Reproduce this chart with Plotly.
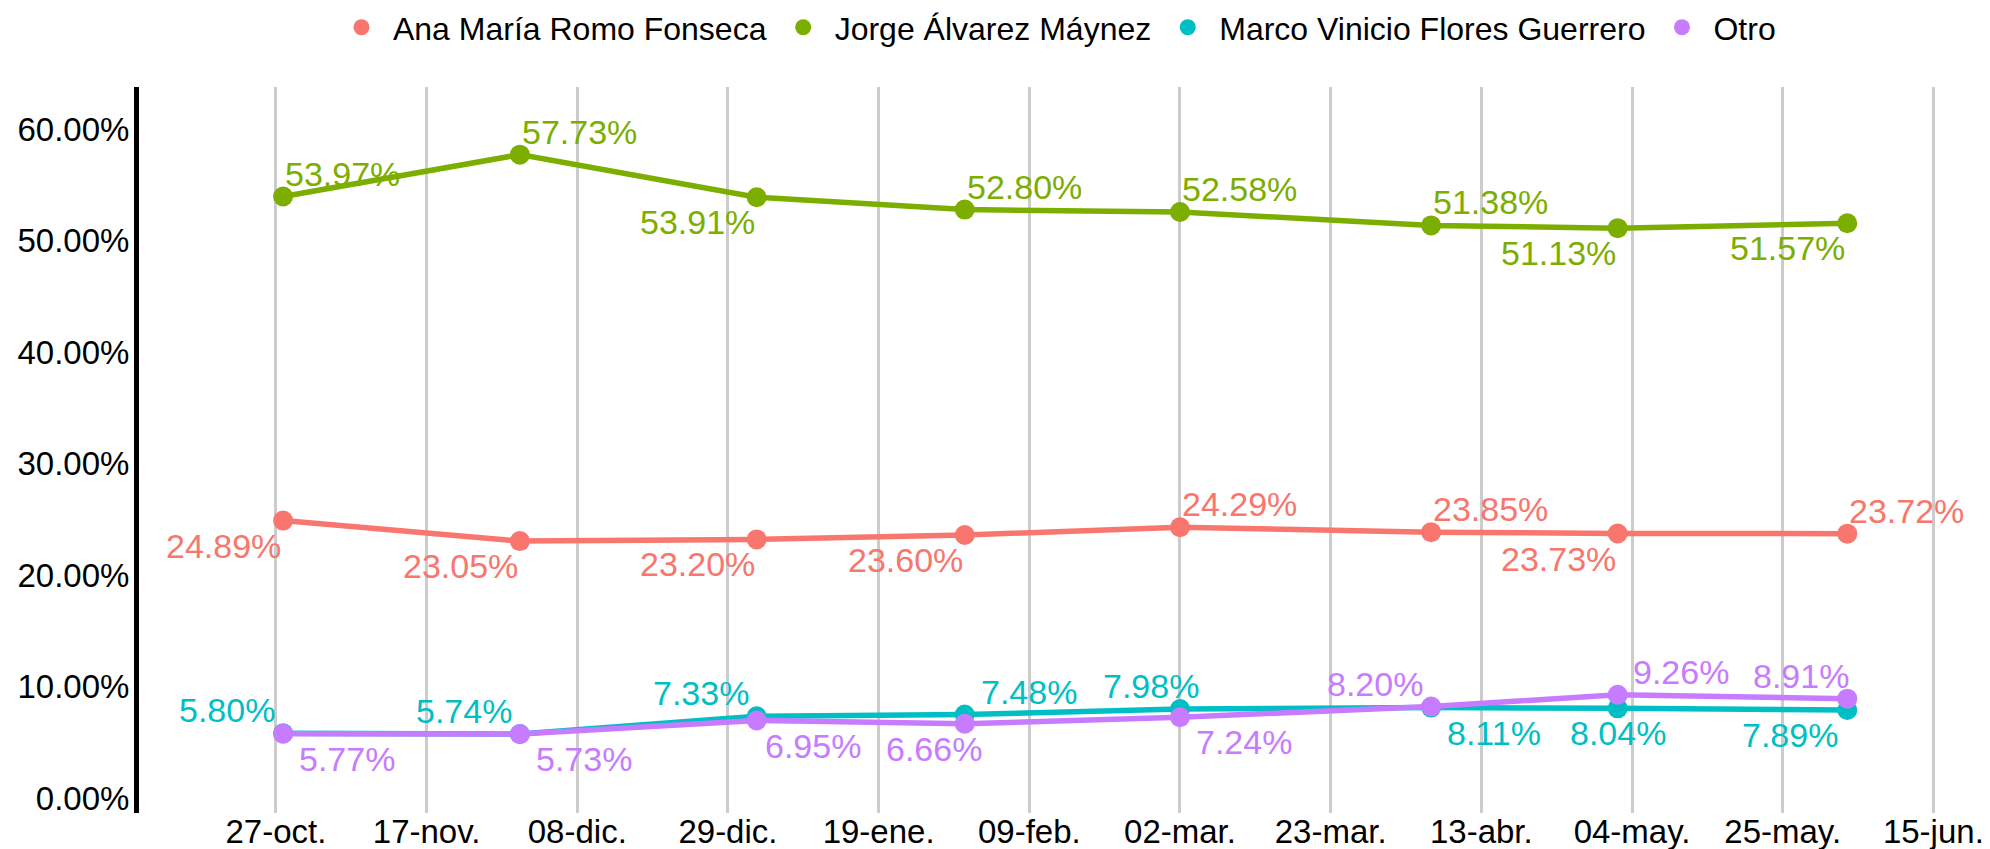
import plotly.graph_objects as go

# ---- data ----
dates = ["2022-10-28", "2022-11-30", "2023-01-02", "2023-01-31",
         "2023-03-02", "2023-04-06", "2023-05-02", "2023-06-03"]

series_names = ["Ana María Romo Fonseca", "Jorge Álvarez Máynez",
                "Marco Vinicio Flores Guerrero", "Otro"]

ana = [24.89, 23.05, 23.20, 23.60, 24.29, 23.85, 23.73, 23.72]
jorge = [53.97, 57.73, 53.91, 52.80, 52.58, 51.38, 51.13, 51.57]
marco = [5.80, 5.74, 7.33, 7.48, 7.98, 8.11, 8.04, 7.89]
otro = [5.77, 5.73, 6.95, 6.66, 7.24, 8.20, 9.26, 8.91]

tick_dates = ["2022-10-27", "2022-11-17", "2022-12-08", "2022-12-29",
              "2023-01-19", "2023-02-09", "2023-03-02", "2023-03-23",
              "2023-04-13", "2023-05-04", "2023-05-25", "2023-06-15"]
tick_labels = ["27-oct.", "17-nov.", "08-dic.", "29-dic.", "19-ene.", "09-feb.",
               "02-mar.", "23-mar.", "13-abr.", "04-may.", "25-may.", "15-jun."]

y_tickvals = [0, 10, 20, 30, 40, 50, 60]
y_ticklabels = ["0.00%", "10.00%", "20.00%", "30.00%", "40.00%", "50.00%", "60.00%"]

# ---- styling ----
colors = ["#F8766D", "#7CAE00", "#00BFC4", "#C77CFF"]
text_positions = [
    ["bottom left", "bottom left", "bottom left", "bottom left",
     "top right", "top right", "bottom left", "top right"],
    ["top right", "top right", "bottom left", "top right",
     "top right", "top right", "bottom left", "bottom left"],
    ["top left", "top left", "top left", "top right",
     "top left", "bottom right", "bottom center", "bottom left"],
    ["bottom right", "bottom right", "bottom right", "bottom left",
     "bottom right", "top left", "top right", "top left"],
]
# extra horizontal label nudges (pixels), style only
label_nudges = [
    [0, 0, 0, 0, 0, 0, 0, 0],
    [0, 0, 0, 0, 0, 0, 0, 0],
    [0, 0, 0, 14, 27, 0, 0, -7],
    [0, 0, -8, 19, 0, 0, 13, 10],
]
# label placement style: xanchor, yanchor, xshift, yshift (pixels)
placement = {
    "top right": ("left", "bottom", 0, 2),
    "top left": ("right", "bottom", -6, 2),
    "top center": ("center", "bottom", 0, 2),
    "bottom left": ("right", "top", 0, -4),
    "bottom right": ("left", "top", 14, -4),
    "bottom center": ("center", "top", 0, -4),
}
FONT = "Liberation Sans, Arial, sans-serif"
FS_TICK = 33
FS_TEXT = 34
FS_LEG = 32

fig = go.Figure()
annotations = []
for name, vals, col, pos, nud in zip(series_names, [ana, jorge, marco, otro],
                                     colors, text_positions, label_nudges):
    fig.add_trace(go.Scatter(
        x=dates, y=vals, mode="lines", line=dict(color=col, width=5.5),
        showlegend=False, legendgroup=name, hoverinfo="skip"))
    fig.add_trace(go.Scatter(
        x=dates, y=vals, mode="markers", name=name, legendgroup=name,
        marker=dict(color=col, size=20)))
    for d, v, p, n in zip(dates, vals, pos, nud):
        xa, ya, xs, ys = placement[p]
        annotations.append(dict(
            x=d, y=v, xref="x", yref="y", text=f"{v:.2f}%", showarrow=False,
            xanchor=xa, yanchor=ya, xshift=xs + n, yshift=ys,
            font=dict(color=col, size=FS_TEXT, family=FONT)))

fig.update_layout(
    width=1990, height=849,
    template="none",
    paper_bgcolor="white", plot_bgcolor="white",
    font=dict(family=FONT, size=FS_LEG, color="black"),
    margin=dict(l=139, r=7, t=87, b=36, autoexpand=False),
    legend=dict(orientation="h", x=0.497, xanchor="center", y=1.082, yanchor="middle",
                font=dict(size=FS_LEG, color="black"), itemwidth=53,
                bgcolor="rgba(0,0,0,0)"),
    showlegend=True,
    annotations=annotations,
)
fig.update_xaxes(
    type="date", range=["2022-10-07 22:00", "2023-06-21 22:00"],
    tickvals=tick_dates, ticktext=tick_labels,
    showgrid=True, gridcolor="#cccccc", gridwidth=3,
    showline=False, zeroline=False, ticks="", automargin=False,
    ticklabelstandoff=-4,
    tickfont=dict(size=FS_TICK, color="black"),
)
fig.update_yaxes(
    range=[-1.35, 63.8], tickvals=y_tickvals, ticktext=y_ticklabels,
    showgrid=False, zeroline=False,
    showline=True, linecolor="black", linewidth=5,
    ticks="", automargin=False, ticklabelstandoff=-2,
    tickfont=dict(size=FS_TICK, color="black"),
)

fig.write_html("out.html", config={"displayModeBar": False},
               post_script="document.body.style.margin='0px';")
